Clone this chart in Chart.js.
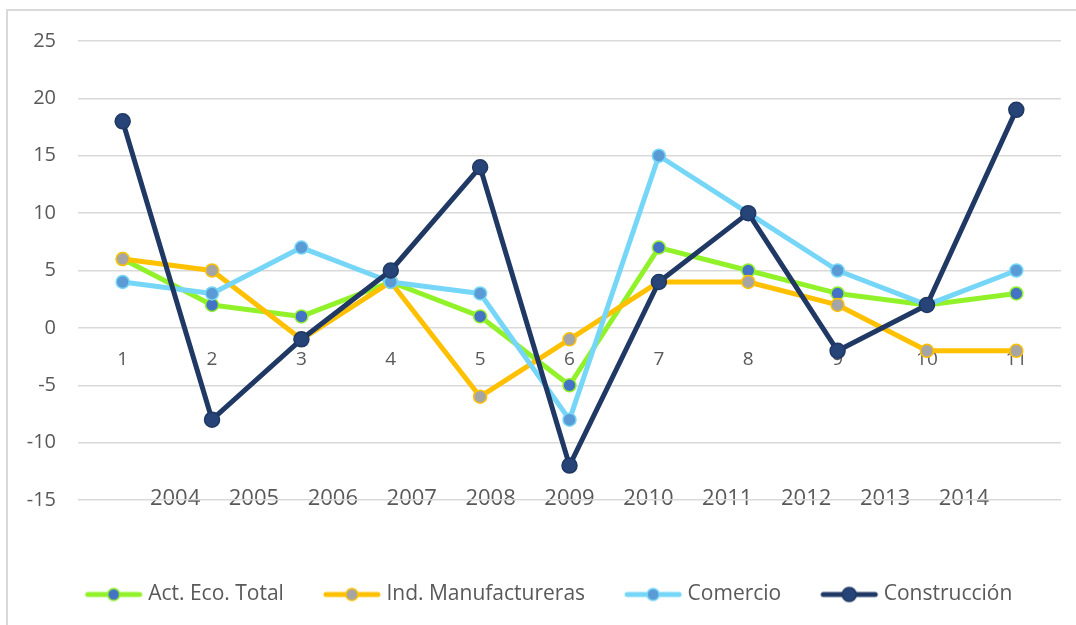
<!DOCTYPE html>
<html>
<head>
<meta charset="utf-8">
<script src="https://cdn.jsdelivr.net/npm/chart.js@4"></script>
<style>
  html, body { margin: 0; padding: 0; background: #fff; }
  #frame {
    position: absolute; left: 6px; top: 9px;
    width: 1070px; height: 616px;
    border-left: 2px solid #d9d9d9; border-top: 2px solid #d9d9d9;
  }
  #wrap { position: absolute; left: 1px; top: -4px; width: 1067px; height: 618px; }
</style>
</head>
<body>
<div id="frame"><div id="wrap"><canvas id="chart"></canvas></div></div>
<script>
const categories = ['1', '2', '3', '4', '5', '6', '7', '8', '9', '10', '11'];
const years = ['2004', '2005', '2006', '2007', '2008', '2009', '2010', '2011', '2012', '2013', '2014'];
const yTicks = [-15, -10, -5, 0, 5, 10, 15, 20, 25];

const actEcoTotal = [6, 2, 1, 4, 1, -5, 7, 5, 3, 2, 3];
const indManufactureras = [6, 5, -1, 4, -6, -1, 4, 4, 2, -2, -2];
const comercio = [4, 3, 7, 4, 3, -8, 15, 10, 5, 2, 5];
const construccion = [18, -8, -1, 5, 14, -12, 4, 10, -2, 2, 19];

Chart.defaults.font.family = "'Open Sans', sans-serif";
Chart.defaults.color = '#595959';

// legend swatch: line with a marker on it
function swatch(line, fill, r) {
  const c = document.createElement('canvas');
  c.width = 92; c.height = 18;
  const g = c.getContext('2d');
  g.strokeStyle = line; g.lineWidth = 5; g.lineCap = 'round';
  g.beginPath(); g.moveTo(36, 9); g.lineTo(88, 9); g.stroke();
  g.beginPath(); g.arc(62, 9, r, 0, Math.PI * 2);
  g.fillStyle = fill; g.fill();
  g.lineWidth = 1.5; g.stroke();
  return c;
}

function series(label, data, line, fill, radius, order) {
  return {
    label, data, order,
    borderColor: line,
    backgroundColor: line,
    borderWidth: 5,
    borderJoinStyle: 'round',
    borderCapStyle: 'round',
    tension: 0,
    pointStyle: 'circle',
    pointRadius: radius,
    pointHoverRadius: radius,
    pointBackgroundColor: fill,
    pointBorderColor: line,
    pointBorderWidth: 1.5,
    legendIcon: swatch(line, fill, radius - 0.5)
  };
}

const ctx = document.getElementById('chart');

new Chart(ctx, {
  type: 'line',
  data: {
    labels: categories,
    datasets: [
      series('Act. Eco. Total', actEcoTotal, '#92f22a', '#4472c4', 6.5, 4),
      series('Ind. Manufactureras', indManufactureras, '#ffc000', '#a5a5a5', 6.5, 3),
      series('Comercio', comercio, '#75d6f7', '#5b9bd5', 6.5, 2),
      series('Construcción', construccion, '#203864', '#264478', 7.5, 1)
    ]
  },
  options: {
    responsive: true,
    maintainAspectRatio: false,
    animation: false,
    layout: { padding: { top: 23, right: 15, bottom: 10, left: 0 } },
    scales: {
      x: {
        type: 'category',
        position: { y: 0 },
        offset: true,
        grid: { display: false, drawTicks: false },
        border: { display: false },
        ticks: { font: { size: 19 }, padding: 20, maxRotation: 0, autoSkip: false }
      },
      x2: {
        type: 'category',
        position: 'bottom',
        offset: true,
        grid: { display: false, drawTicks: false },
        border: { display: false },
        ticks: { display: false },
        title: {
          display: true,
          text: years.join('     '),
          font: { size: 22 },
          padding: { top: 0, bottom: 60 }
        },
        afterFit: (s) => { s.height = 72; }
      },
      y: {
        min: -15,
        max: 25,
        afterBuildTicks: (s) => { s.ticks = yTicks.map(v => ({ value: v })); },
        grid: { color: '#d9d9d9', lineWidth: 1.5, drawTicks: false },
        border: { display: false },
        ticks: { font: { size: 20 }, padding: 22 },
        afterFit: (s) => { s.width = 69; }
      }
    },
    plugins: {
      tooltip: { enabled: false },
      legend: {
        position: 'bottom',
        labels: {
          usePointStyle: true,
          pointStyleWidth: 80,
          padding: 12,
          font: { size: 21 },
          color: '#595959',
          sort: (a, b) => a.datasetIndex - b.datasetIndex,
          generateLabels: (chart) => {
            const items = Chart.defaults.plugins.legend.labels.generateLabels(chart);
            items.forEach(it => { it.pointStyle = chart.data.datasets[it.datasetIndex].legendIcon; });
            return items;
          }
        }
      }
    }
  }
});
</script>
</body>
</html>
